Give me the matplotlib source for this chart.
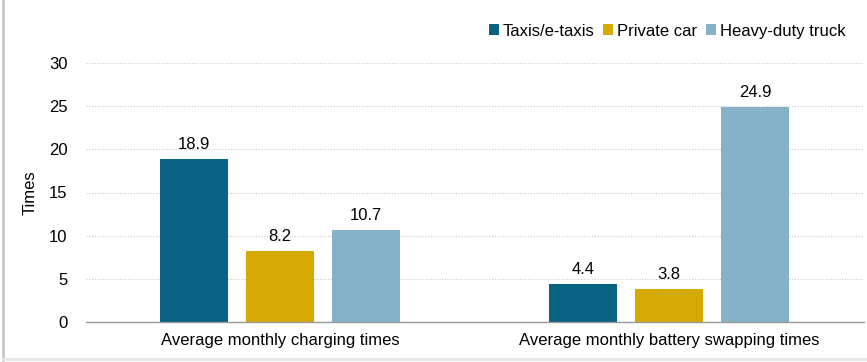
import matplotlib
matplotlib.use("Agg")
import matplotlib.pyplot as plt
import numpy as np
from matplotlib.lines import Line2D

plt.rcParams['font.family'] = ['Liberation Sans', 'DejaVu Sans']

categories = ["Average monthly charging times", "Average monthly battery swapping times"]
series_names = ["Taxis/e-taxis", "Private car", "Heavy-duty truck"]
taxis = [18.9, 4.4]
private = [8.2, 3.8]
truck = [10.7, 24.9]
colors = ["#0b6384", "#d6aa04", "#85b2c9"]
yticks = [0, 5, 10, 15, 20, 25, 30]

fig = plt.figure(figsize=(8.67, 3.62), dpi=100)
ax = fig.add_axes([85.5/867, 40/362, 778/867, 259/362])

x = np.arange(len(categories))
w = 0.175
step = 0.221
for i, (vals, name, c) in enumerate(zip([taxis, private, truck], series_names, colors)):
    pos = x + (i - 1) * step
    ax.bar(pos, vals, width=w, color=c, label=name, zorder=3)
    for p, v in zip(pos, vals):
        ax.text(p, v + 0.8, f"{v:.1f}", ha='center', va='bottom', fontsize=12, color='#000000')

ax.set_xlim(-0.5, 1.5)
ax.set_ylim(0, 30)
ax.set_yticks(yticks)
ax.set_xticks(x)
ax.set_xticklabels(categories, fontsize=12)
ax.tick_params(axis='y', length=0, labelsize=12, pad=13)
ax.tick_params(axis='x', length=0, labelsize=12, pad=8)
ax.yaxis.grid(True, color='#c8c8c8', linestyle=(0, (1, 1.5)), linewidth=0.8, zorder=0)
for s in ['top', 'right', 'left']:
    ax.spines[s].set_visible(False)
ax.spines['bottom'].set_color('#999999')
ax.spines['bottom'].set_linewidth(1.0)
ax.spines['bottom'].set_zorder(4)
ax.set_ylabel("Times", fontsize=12, labelpad=8)

fig.legend(loc='upper right', bbox_to_anchor=(852/867, 1 - 17/362), ncol=3, frameon=False,
           fontsize=12, handlelength=0.6, handleheight=0.6, handletextpad=0.25, columnspacing=0.5,
           borderaxespad=0)

fig.add_artist(Line2D([3/867, 3/867], [2/362, 1], transform=fig.transFigure, color='#c8c8c8', linewidth=2))
fig.add_artist(Line2D([3/867, 1], [3/362, 3/362], transform=fig.transFigure, color='#e6e6e6', linewidth=2))

fig.savefig("out.png", dpi=100)
